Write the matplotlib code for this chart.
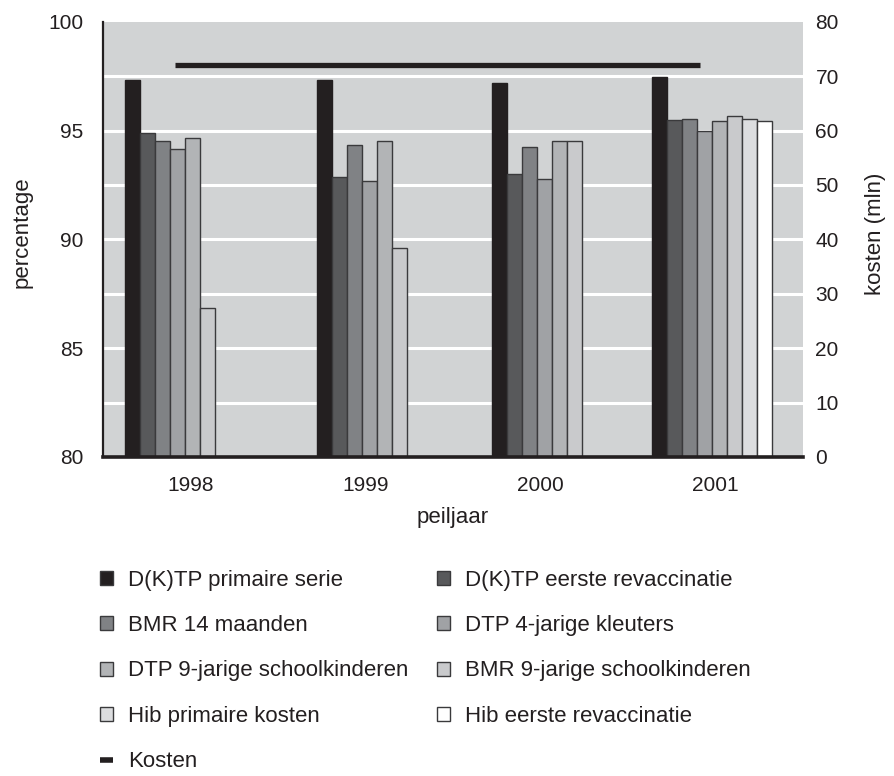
import numpy as np
import matplotlib
matplotlib.use("Agg")
import matplotlib.pyplot as plt
from matplotlib.patches import Patch
from matplotlib.lines import Line2D
from matplotlib.ticker import FixedLocator

plt.rcParams["font.family"] = ["Liberation Sans", "DejaVu Sans"]

years = ["1998", "1999", "2000", "2001"]

dktp_primair = [97.3, 97.3, 97.2, 97.45]
dktp_revacc = [94.9, 92.85, 93.0, 95.5]
bmr_14 = [94.5, 94.35, 94.25, 95.55]
dtp_4 = [94.15, 92.7, 92.75, 95.0]
dtp_9 = [94.65, 94.5, 94.5, 95.45]
bmr_9 = [86.85, 89.6, 94.5, 95.65]
hib_primair = [np.nan, np.nan, np.nan, 95.55]
hib_revacc = [np.nan, np.nan, np.nan, 95.45]
kosten = [72.0, 72.0, 72.0, 72.0]

series = [dktp_primair, dktp_revacc, bmr_14, dtp_4, dtp_9, bmr_9, hib_primair, hib_revacc]
labels = [
    "D(K)TP primaire serie", "D(K)TP eerste revaccinatie",
    "BMR 14 maanden", "DTP 4-jarige kleuters",
    "DTP 9-jarige schoolkinderen", "BMR 9-jarige schoolkinderen",
    "Hib primaire kosten", "Hib eerste revaccinatie",
]
colors = ["#231f20", "#58595b", "#808285", "#a0a2a5",
          "#b2b4b6", "#c9cacc", "#dcdddf", "#ffffff"]
EDGE = "#3a3a3c"
BG = "#d1d3d4"
INK = "#231f20"

# groups 1999-2001 sit almost centred, 1998 is shifted left in the original
group_shift = [-0.12, -0.02, -0.02, -0.02]
bar_w = 15 / 175

fig = plt.figure(figsize=(8.94, 7.76), dpi=100)
ax = fig.add_axes([103 / 894, 1 - 457 / 776, 700 / 894, 435.3 / 776])
ax.set_facecolor(BG)
ax.set_xlim(0, 4)
ax.set_ylim(80, 100)

centers = np.arange(len(years)) + 0.5
for g, c in enumerate(centers):
    present = [k for k in range(len(series)) if not np.isnan(series[k][g])]
    n = len(present)
    for j, k in enumerate(present):
        x = c + group_shift[g] + (j - (n - 1) / 2) * bar_w
        ec = colors[0] if k == 0 else EDGE
        ax.bar(x, series[k][g] - 80, bottom=80, width=bar_w,
               color=colors[k], edgecolor=ec, linewidth=1.0, zorder=3)

# white gridlines follow the right-hand axis (every 10 mln = 2.5 %)
ax.yaxis.remove_overlapping_locs = False
ax.yaxis.set_major_locator(FixedLocator([80, 85, 90, 95, 100]))
ax.yaxis.set_minor_locator(FixedLocator(np.arange(82.5, 99, 2.5)))
ax.grid(which="minor", axis="y", color="white", linewidth=2.2)
ax.set_axisbelow(True)

ax.set_xticks(centers)
ax.set_xticklabels(years)
ax.tick_params(axis="x", length=0, pad=14, labelsize=15, colors=INK)
ax.tick_params(axis="y", which="both", length=0, pad=14, labelsize=15, colors=INK)
for s in ("top", "right"):
    ax.spines[s].set_visible(False)
ax.spines["left"].set_color(INK)
ax.spines["left"].set_linewidth(1.6)
ax.spines["bottom"].set_color(INK)
ax.spines["bottom"].set_linewidth(2.6)
ax.spines["bottom"].set_zorder(5)

ax2 = ax.twinx()
ax2.set_ylim(0, 80)
ax2.set_yticks(np.arange(0, 81, 10))
ax2.tick_params(axis="y", length=0, pad=9, labelsize=15, colors=INK)
for s in ax2.spines.values():
    s.set_visible(False)
ax2.plot(centers - 0.09, kosten, color=INK, linewidth=3.8,
         solid_capstyle="butt", zorder=4)

fig.text(22 / 894, 1 - 232 / 776, "percentage", rotation=90,
         ha="center", va="center", fontsize=16, color=INK)
fig.text(875 / 894, 1 - 234 / 776, "kosten (mln)", rotation=90,
         ha="center", va="center", fontsize=16, color=INK)
fig.text(453 / 894, 1 - 517 / 776, "peiljaar",
         ha="center", va="center", fontsize=16, color=INK)

# legend filled row by row, like the original
handles = [Patch(facecolor=colors[k], edgecolor=EDGE, linewidth=1.0, label=labels[k])
           for k in range(len(series))]
kosten_handle = Line2D([0], [0], color=INK, linewidth=4,
                       solid_capstyle="butt", label="Kosten")
order = [handles[0], handles[2], handles[4], handles[6], kosten_handle,
         handles[1], handles[3], handles[5], handles[7]]
fig.legend(handles=order, loc="upper left",
           bbox_to_anchor=(100 / 894, 1 - 570 / 776), ncol=2,
           frameon=False, fontsize=16, borderaxespad=0, borderpad=0,
           handlelength=0.58, handleheight=0.58, handletextpad=0.68,
           labelspacing=1.09, columnspacing=1.3, labelcolor=INK)

fig.savefig("out.png", dpi=100)
